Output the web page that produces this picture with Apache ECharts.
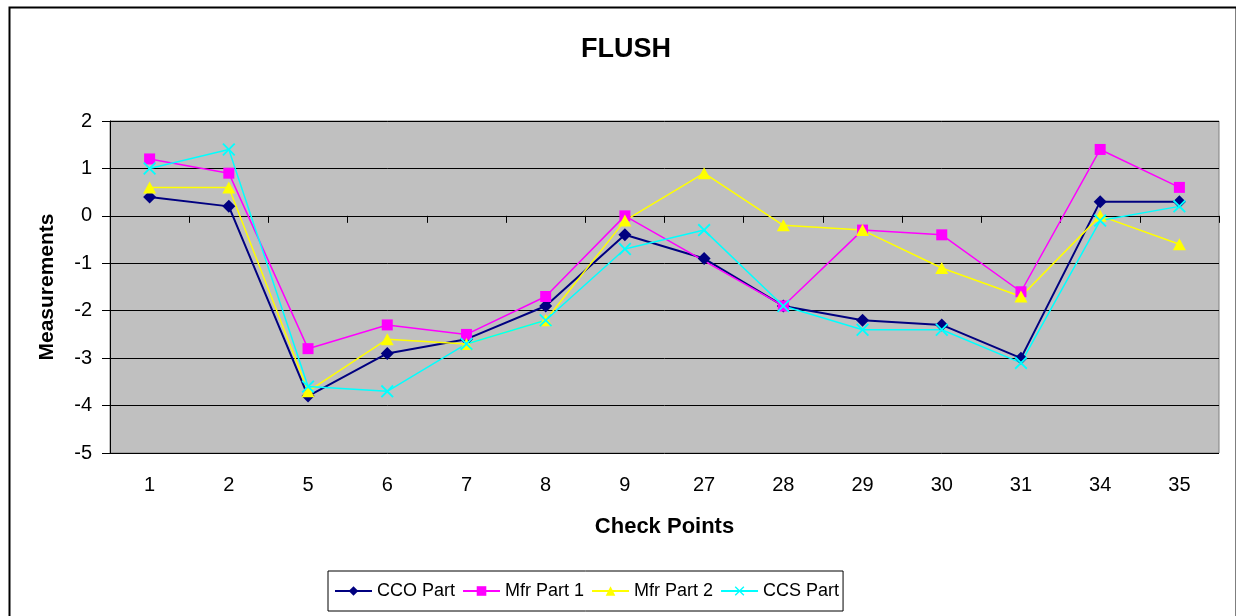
<!DOCTYPE html>
<html>
<head>
<meta charset="utf-8">
<script src="https://cdn.jsdelivr.net/npm/echarts@6/dist/echarts.min.js"></script>
<style>
html,body{margin:0;padding:0;background:#fff;}
#chart{width:1236px;height:616px;}
</style>
</head>
<body>
<div id="chart"></div>
<script>
const categories = ['1','2','5','6','7','8','9','27','28','29','30','31','34','35'];
const ccoPart  = [0.4, 0.2, -3.8, -2.9, -2.6, -1.9, -0.4, -0.9, -1.9, -2.2, -2.3, -3.0, 0.3, 0.3];
const mfrPart1 = [1.2, 0.9, -2.8, -2.3, -2.5, -1.7, 0.0, null, -1.9, -0.3, -0.4, -1.6, 1.4, 0.6];
const mfrPart2 = [0.6, 0.6, -3.7, -2.6, -2.7, -2.2, -0.1, 0.9, -0.2, -0.3, -1.1, -1.7, 0.0, -0.6];
const ccsPart  = [1.0, 1.4, -3.6, -3.7, -2.7, -2.2, -0.7, -0.3, -1.9, -2.4, -2.4, -3.1, -0.1, 0.2];
const yTicks = {min: -5, max: 2, interval: 1};

const FONT = 'Liberation Sans, Arial, sans-serif';
const xSymbol = 'path://M0,1 L1,0 L5,4 L9,0 L10,1 L6,5 L10,9 L9,10 L5,6 L1,10 L0,9 L4,5 Z';

function mk(name, data, color, symbol, size, width) {
  return {
    name: name, type: 'line', data: data, connectNulls: true,
    symbol: symbol, symbolSize: size, showSymbol: true,
    lineStyle: {color: color, width: width},
    itemStyle: {color: color},
    emphasis: {disabled: true}
  };
}

const chart = echarts.init(document.getElementById('chart'), null, {renderer: 'canvas'});
chart.setOption({
  animation: false,
  backgroundColor: '#ffffff',
  title: {
    text: 'FLUSH', left: 576, top: 31,
    textStyle: {fontFamily: FONT, fontSize: 27, fontWeight: 'bold', color: '#000'}
  },
  graphic: [{
    type: 'rect', left: 7, top: 5, z: -1,
    shape: {x: 0, y: 0, width: 1227, height: 640},
    style: {fill: 'none', stroke: '#000', lineWidth: 2}
  }],
  legend: {
    left: 328, top: 571,
    padding: [11, 4, 11, 6],
    itemWidth: 37, itemHeight: 12, itemGap: 7,
    borderColor: '#000', borderWidth: 1, backgroundColor: '#fff',
    textStyle: {fontFamily: FONT, fontSize: 18, color: '#000'},
    data: ['CCO Part', 'Mfr Part 1', 'Mfr Part 2', 'CCS Part']
  },
  grid: {
    left: 110, top: 121, right: 17, bottom: 163,
    show: true, backgroundColor: '#C0C0C0', borderColor: '#808080', borderWidth: 1
  },
  xAxis: [{
    type: 'category', data: categories, position: 'bottom', boundaryGap: true,
    axisLine: {show: true, onZero: true, lineStyle: {color: '#000', width: 1}},
    axisTick: {show: true, inside: false, length: 7, alignWithLabel: false, lineStyle: {color: '#000'}},
    axisLabel: {show: false},
    splitLine: {show: false}
  }, {
    type: 'category', data: categories, position: 'bottom', boundaryGap: true,
    axisLine: {show: false, onZero: false},
    axisTick: {show: false},
    axisLabel: {show: true, margin: 22, fontFamily: FONT, fontSize: 20, color: '#000'},
    name: 'Check Points', nameLocation: 'middle', nameGap: 63,
    nameTextStyle: {fontFamily: FONT, fontSize: 22, fontWeight: 'bold', color: '#000'}
  }],
  yAxis: {
    type: 'value', min: yTicks.min, max: yTicks.max, interval: yTicks.interval,
    axisLine: {show: true, lineStyle: {color: '#000', width: 1}},
    axisTick: {show: true, length: 8, inside: false, lineStyle: {color: '#000'}},
    axisLabel: {margin: 18, fontFamily: FONT, fontSize: 20, color: '#000'},
    splitLine: {show: true, lineStyle: {color: '#000', width: 1}},
    name: 'Measurements', nameLocation: 'middle', nameGap: 52, nameRotate: 90,
    nameTextStyle: {fontFamily: FONT, fontSize: 21, fontWeight: 'bold', color: '#000'}
  },
  series: [
    mk('CCO Part', ccoPart, '#000080', 'diamond', 13, 2),
    mk('Mfr Part 1', mfrPart1, '#FF00FF', 'rect', 11, 1.5),
    mk('Mfr Part 2', mfrPart2, '#FFFF00', 'triangle', [13, 12], 1.5),
    mk('CCS Part', ccsPart, '#00FFFF', xSymbol, 13, 1.5)
  ]
});
</script>
</body>
</html>
